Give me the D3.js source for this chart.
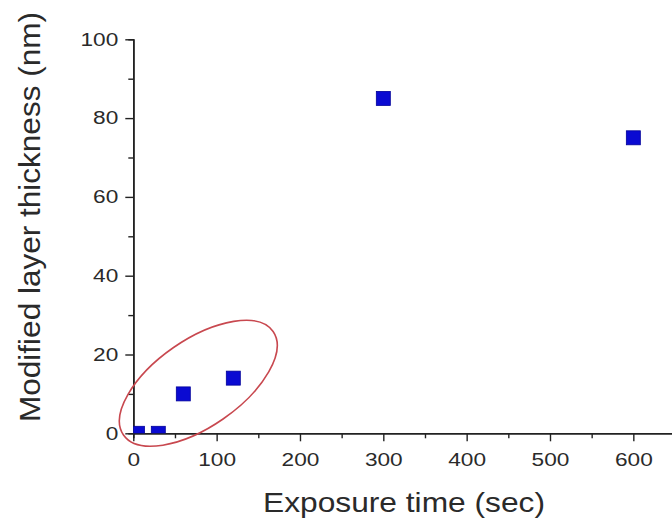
<!DOCTYPE html>
<html>
<head>
<meta charset="utf-8">
<script src="https://cdn.jsdelivr.net/npm/d3@7"></script>
<style>
  body { margin: 0; background: #fff; }
  svg { display: block; }
  .axis path, .axis line { stroke: #222; }
  .axis text { font-family: "Liberation Sans", Arial, sans-serif; font-size: 18px; fill: #2a2a2a; }
</style>
</head>
<body>
<div id="chart-area"></div>
<script>
// Data
var times = [5, 30, 60, 120, 300, 600];
var thickness = [0, 0, 10, 14, 85, 75];
var xTicks = [0, 100, 200, 300, 400, 500, 600];
var yTicks = [0, 20, 40, 60, 80, 100];

var W = 672, H = 524;

var svg = d3.select("#chart-area")
    .append("svg")
        .attr("width", W)
        .attr("height", H);

// X Scale (0 at 133, 600 at 633; axis runs past the window edge)
var x = d3.scaleLinear()
    .domain([0, 650])
    .range([133.3, 675]);

// Y Scale
var y = d3.scaleLinear()
    .domain([0, 100])
    .range([433.3, 39.3]);

// Minor ticks
var xMinor = d3.range(50, 650, 100);
var yMinor = d3.range(10, 100, 20);

var xAxisMinor = d3.axisBottom(x).tickValues(xMinor).tickSize(5).tickFormat("");
svg.append("g")
    .attr("class", "x axis")
    .attr("transform", "translate(0," + y(0) + ")")
    .call(xAxisMinor);

var yAxisMinor = d3.axisLeft(y).tickValues(yMinor).tickSize(5).tickFormat("");
svg.append("g")
    .attr("class", "y axis")
    .attr("transform", "translate(" + x(0) + ",0)")
    .call(yAxisMinor);

// X Axis
var xAxisCall = d3.axisBottom(x)
    .tickValues(xTicks)
    .tickSizeInner(8)
    .tickSizeOuter(0)
    .tickPadding(12)
    .tickFormat(d3.format("d"));
svg.append("g")
    .attr("class", "x axis")
    .attr("transform", "translate(0," + y(0) + ")")
    .call(xAxisCall);

// Y Axis
var yAxisCall = d3.axisLeft(y)
    .tickValues(yTicks)
    .tickSizeInner(8)
    .tickSizeOuter(0)
    .tickPadding(7)
    .tickFormat(d3.format("d"));
svg.append("g")
    .attr("class", "y axis")
    .attr("transform", "translate(" + x(0) + ",0)")
    .call(yAxisCall);

svg.selectAll(".axis path").attr("stroke-width", 1.6);
svg.selectAll(".axis line").attr("stroke-width", 1.4);

// the labels in the picture are a bit wider than Arial
svg.selectAll(".axis text")
    .attr("textLength", function(){ return this.textContent.length * 12.6; })
    .attr("lengthAdjust", "spacingAndGlyphs");

// Clip so the zero points sit half under the axis
svg.append("clipPath")
    .attr("id", "plot-clip")
  .append("rect")
    .attr("x", x(0))
    .attr("y", 0)
    .attr("width", W - x(0))
    .attr("height", y(0));

var size = 14;
svg.append("g")
    .attr("clip-path", "url(#plot-clip)")
  .selectAll("rect")
    .data(times)
    .enter()
    .append("rect")
        .attr("x", function(d){ return x(d) - size / 2; })
        .attr("y", function(d, i){ return y(thickness[i]) - size / 2; })
        .attr("width", size)
        .attr("height", size)
        .attr("fill", "#0a0ad2")
        .attr("stroke", "#00009a")
        .attr("stroke-width", 0.8);

// Red ellipse round the early points
svg.append("ellipse")
    .attr("cx", x(78))
    .attr("cy", y(12.7))
    .attr("rx", 91)
    .attr("ry", 43.5)
    .attr("transform", "rotate(-34.7," + x(78) + "," + y(12.7) + ")")
    .attr("fill", "none")
    .attr("stroke", "#c8484f")
    .attr("stroke-width", 1.6);

// X Label
svg.append("text")
    .attr("x", 263)
    .attr("y", 512)
    .attr("font-family", "Liberation Sans, Arial, sans-serif")
    .attr("font-size", "28px")
    .attr("fill", "#2a2a2a")
    .attr("textLength", 282)
    .attr("lengthAdjust", "spacingAndGlyphs")
    .text("Exposure time (sec)");

// Y Label
svg.append("text")
    .attr("transform", "translate(40,422) rotate(-90)")
    .attr("font-family", "Liberation Sans, Arial, sans-serif")
    .attr("font-size", "29px")
    .attr("fill", "#2a2a2a")
    .attr("textLength", 410)
    .attr("lengthAdjust", "spacingAndGlyphs")
    .text("Modified layer thickness (nm)");
</script>
</body>
</html>
